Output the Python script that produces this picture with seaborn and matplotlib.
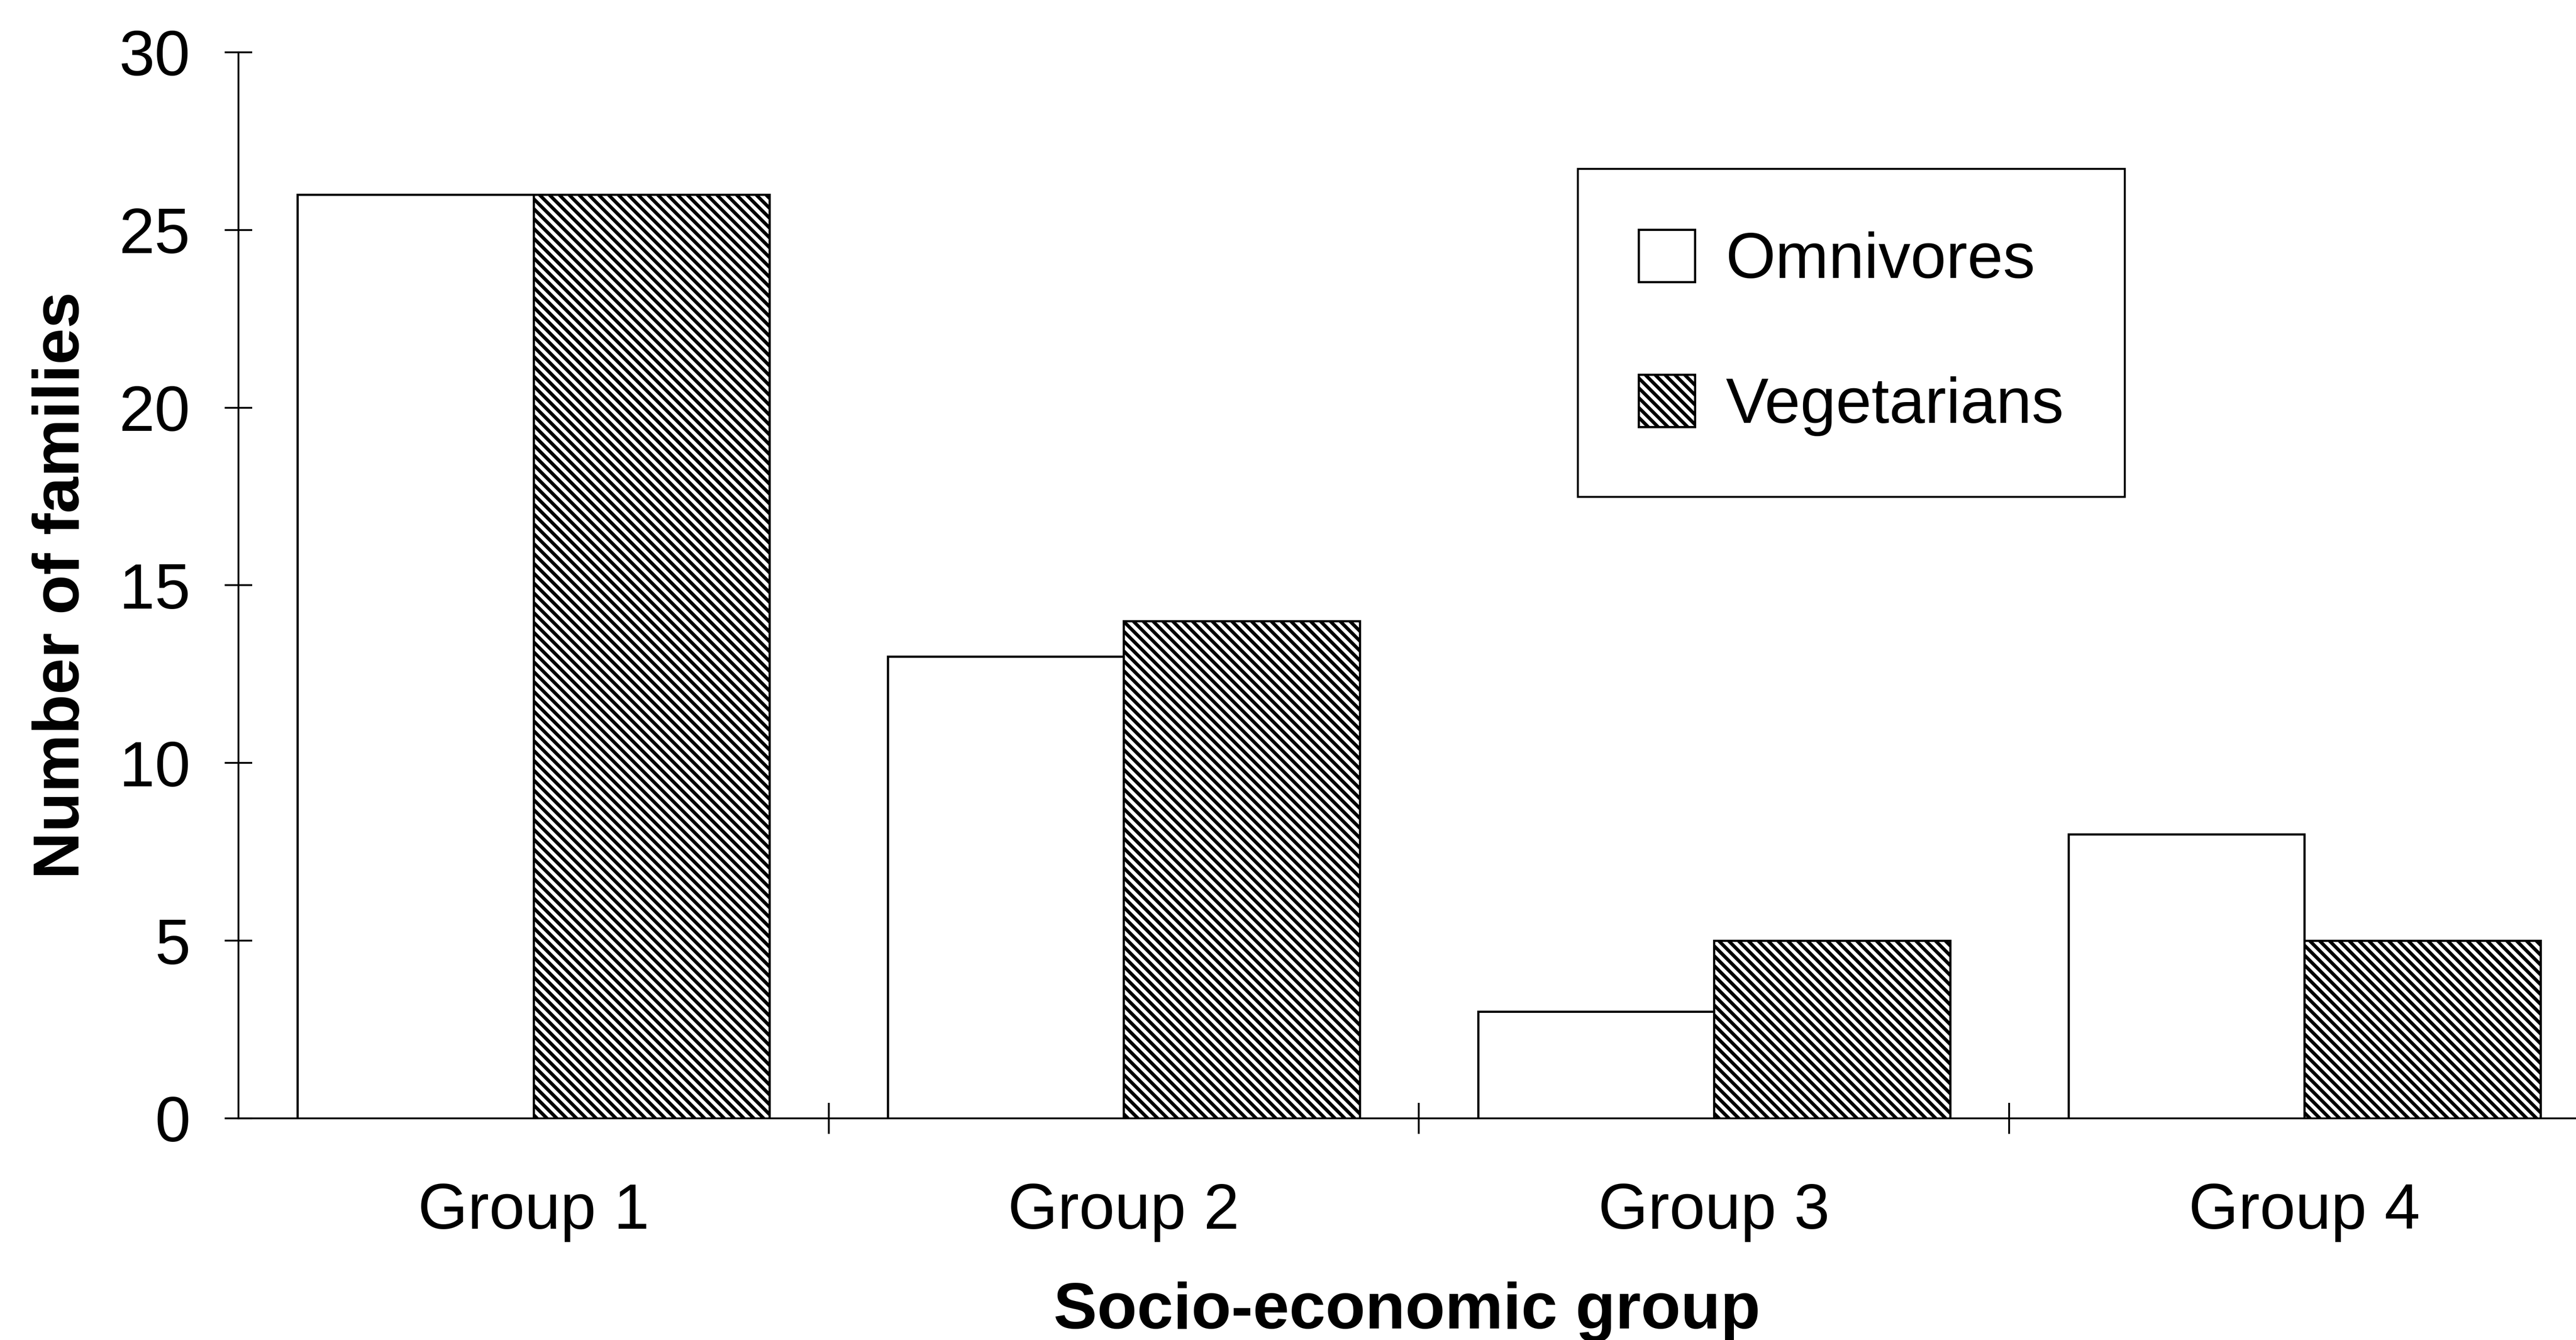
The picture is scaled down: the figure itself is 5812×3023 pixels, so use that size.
import pandas as pd
import seaborn as sns
import matplotlib.pyplot as plt

groups = ["Group 1", "Group 2", "Group 3", "Group 4"]
omnivores = [26, 13, 3, 8]
vegetarians = [26, 14, 5, 5]
series_names = ["Omnivores", "Vegetarians"]

df = pd.DataFrame({
    "group": groups * 2,
    "count": omnivores + vegetarians,
    "diet": [series_names[0]] * len(groups) + [series_names[1]] * len(groups),
})

sns.set_style("ticks")
plt.rcParams["font.family"] = ["Liberation Sans", "DejaVu Sans"]
plt.rcParams["hatch.linewidth"] = 2.8
plt.rcParams["hatch.color"] = "black"
plt.rcParams["text.color"] = "black"
plt.rcParams["axes.labelcolor"] = "black"
plt.rcParams["xtick.color"] = "black"
plt.rcParams["ytick.color"] = "black"

fig = plt.figure(figsize=(29.06, 15.115), dpi=200)
ax = fig.add_axes([0.0925, 0.1654, 0.9075, 0.7956])

sns.barplot(data=df, x="group", y="count", hue="diet", palette=["white", "white"],
            edgecolor="black", linewidth=1.8, legend=False, ax=ax)

for bar in ax.containers[1]:
    bar.set_hatch("\\\\\\")

ax.set_ylim(0, 30)
ax.set_xlim(-0.5, 3.46)
ax.set_yticks([0, 5, 10, 15, 20, 25, 30])
ax.tick_params(axis="y", direction="inout", length=22, width=1.5, pad=28,
               labelsize=52, colors="black")

# category labels at centres, tick marks on the boundaries
ax.set_xticks([0, 1, 2, 3])
ax.set_xticklabels(groups)
ax.tick_params(axis="x", which="major", length=0, pad=52, labelsize=52, colors="black")
ax.set_xticks([0.5, 1.5, 2.5], minor=True)
ax.tick_params(axis="x", which="minor", direction="inout", length=25, width=1.5)

for side in ["top", "right"]:
    ax.spines[side].set_visible(False)
for side in ["left", "bottom"]:
    ax.spines[side].set_linewidth(1.5)
    ax.spines[side].set_color("black")

ax.set_xlabel("Socio-economic group", fontsize=53, fontweight="bold", labelpad=32)
ax.set_ylabel("Number of families", fontsize=53, fontweight="bold", labelpad=22)

leg = ax.legend(ax.containers, series_names, loc="upper left",
                bbox_to_anchor=(0.573, 0.8906), borderaxespad=0, fontsize=52,
                frameon=True, fancybox=False, framealpha=1, edgecolor="black",
                handlelength=0.88, handleheight=0.88, handletextpad=0.48,
                labelspacing=1.3, borderpad=0.95)
leg.get_frame().set_linewidth(1.6)

fig.savefig("out.png", dpi=200, facecolor="white")
